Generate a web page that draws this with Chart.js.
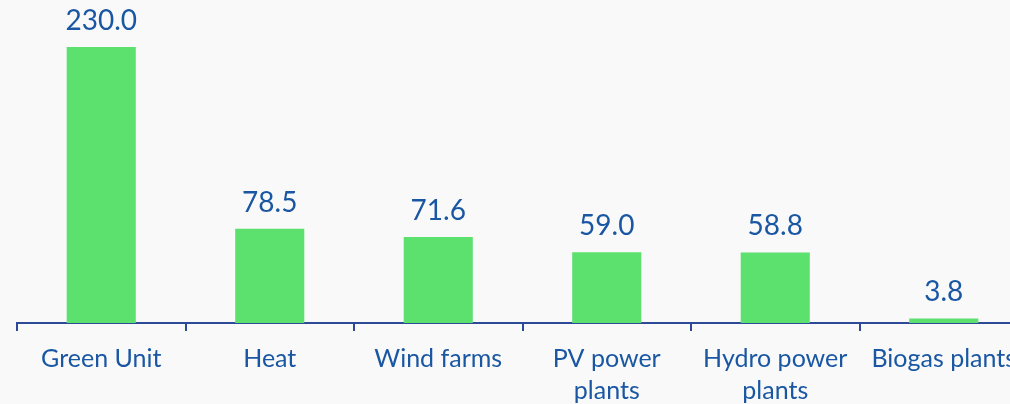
<!DOCTYPE html>
<html>
<head>
<meta charset="utf-8">
<script src="https://cdn.jsdelivr.net/npm/chart.js@4.4.1/dist/chart.umd.min.js"></script>
<style>
  html, body { margin: 0; padding: 0; background: #f9f9f9; overflow: hidden; }
  #wrap { position: relative; width: 1045px; height: 419px; }
</style>
</head>
<body>
<div id="wrap"><canvas id="chart"></canvas></div>
<script>
// Installed capacity by source
const categories = ['Green Unit', 'Heat', 'Wind farms', ['PV power', 'plants'], ['Hydro power', 'plants'], 'Biogas plants'];
const values = [230.0, 78.5, 71.6, 59.0, 58.8, 3.8];

const textBlue = '#1a57a3';
const axisBlue = '#2e4a96';
const barGreen = '#5ce06e';

// Prints each bar's value above its top
const valueLabels = {
  id: 'valueLabels',
  afterDatasetsDraw(chart) {
    const ctx = chart.ctx;
    const meta = chart.getDatasetMeta(0);
    ctx.save();
    ctx.font = '28px Lato';
    ctx.fillStyle = textBlue;
    ctx.textAlign = 'center';
    ctx.textBaseline = 'alphabetic';
    meta.data.forEach((bar, i) => {
      ctx.fillText(values[i].toFixed(1), bar.x, bar.y - 17);
    });
    ctx.restore();
  }
};

new Chart(document.getElementById('chart'), {
  type: 'bar',
  data: {
    labels: categories,
    datasets: [{
      data: values,
      backgroundColor: barGreen,
      borderWidth: 0,
      categoryPercentage: 1,
      barPercentage: 0.41
    }]
  },
  options: {
    responsive: true,
    maintainAspectRatio: false,
    animation: false,
    layout: { padding: { left: 17, right: 17, top: 23, bottom: 0 } },
    plugins: { legend: { display: false }, tooltip: { enabled: false } },
    scales: {
      x: {
        offset: true,
        grid: {
          offset: true,
          drawOnChartArea: false,
          drawTicks: true,
          tickLength: 8,
          tickColor: axisBlue,
          lineWidth: 2
        },
        border: { display: true, color: axisBlue, width: 2 },
        ticks: {
          color: textBlue,
          font: { family: 'Lato', size: 25, lineHeight: 1.28 },
          padding: 12,
          maxRotation: 0,
          minRotation: 0,
          autoSkip: false
        }
      },
      y: {
        display: false,
        min: 0,
        max: 250
      }
    }
  },
  plugins: [valueLabels]
});
</script>
</body>
</html>
